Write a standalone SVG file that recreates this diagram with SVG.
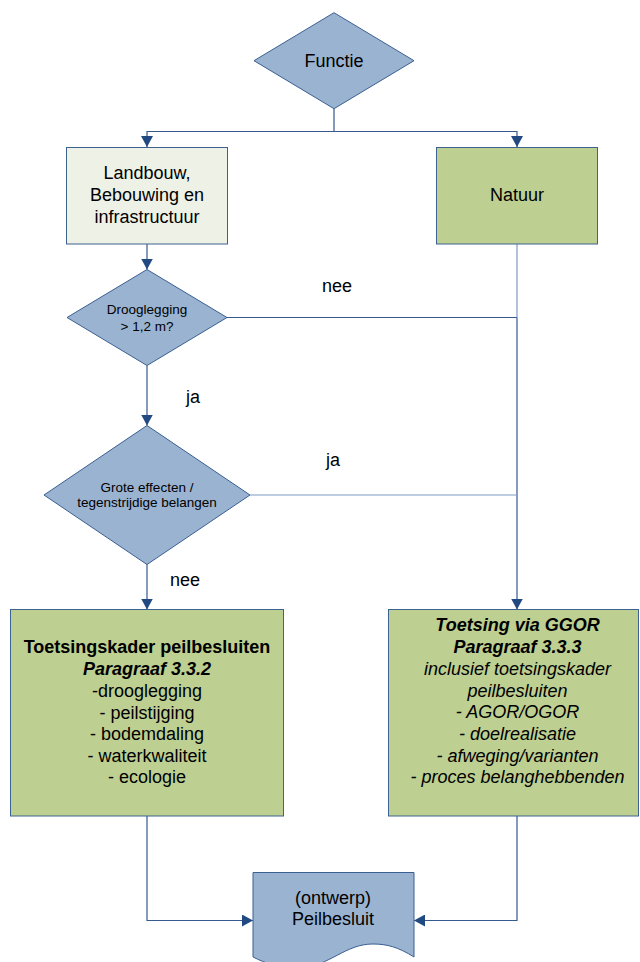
<svg xmlns="http://www.w3.org/2000/svg" width="640" height="962" viewBox="0 0 640 962">
<style>
text{font-family:"Liberation Sans",Arial,sans-serif;fill:#000;text-anchor:middle;dominant-baseline:central}
.big{font-size:18px}
.sm{font-size:13.5px}
.b{font-weight:bold}
.i{font-style:italic}
.dia{fill:#9ab3d1;stroke:#3a5f92;stroke-width:1}
.green{fill:#bdcf91;stroke:#3d6291;stroke-width:1}
.light{fill:#eef1e6;stroke:#3d6291;stroke-width:1}
.c{fill:none;stroke:#36598f;stroke-width:1.2}
.cl{fill:none;stroke:#7e9ac4;stroke-width:1.2}
</style>
<defs>
<marker id="arr" markerUnits="userSpaceOnUse" markerWidth="12" markerHeight="12" refX="11" refY="6" orient="auto">
<path d="M0,0 L11,6 L0,12 Z" fill="#214a82"/>
</marker>
</defs>
<g id="connectors">
<path class="c" d="M334,109 V131.5 H147 V147" marker-end="url(#arr)"/>
<path class="c" d="M334,131.5 H517 V147" marker-end="url(#arr)"/>
<path class="c" d="M147,244 V269.5" marker-end="url(#arr)"/>
<path class="c" d="M227,317.5 H517"/>
<path class="cl" d="M517,244 V317.5"/>
<path class="c" d="M517,317.5 V609.5" marker-end="url(#arr)"/>
<path class="c" d="M147,365.5 V425.5" marker-end="url(#arr)"/>
<path class="cl" d="M250,495 H517"/>
<path class="c" d="M147,564 V609.5" marker-end="url(#arr)"/>
<path class="c" d="M147,816 V920.5 H253" marker-end="url(#arr)"/>
<path class="c" d="M517,816 V920.5 H414" marker-end="url(#arr)"/>
<text class="big" x="337" y="286">nee</text>
<text class="big" x="193" y="397">ja</text>
<text class="big" x="333" y="460">ja</text>
<text class="big" x="185" y="580">nee</text>
</g>
<g id="functie">
<polygon class="dia" points="334,12.7 414,60.7 334,108.7 254,60.7"/>
<text class="big" x="334" y="61">Functie</text>
</g>
<g id="landbouw">
<rect class="light" x="66.5" y="147.5" width="161" height="96.5"/>
<text class="big" x="147" y="173">Landbouw,</text>
<text class="big" x="147" y="195">Bebouwing en</text>
<text class="big" x="147" y="217">infrastructuur</text>
</g>
<g id="natuur">
<rect class="green" x="436.5" y="147.5" width="161" height="96.5"/>
<text class="big" x="517" y="195">Natuur</text>
</g>
<g id="drooglegging">
<polygon class="dia" points="147,269.5 227,317.5 147,365.5 67,317.5"/>
<text class="sm" x="147" y="309">Drooglegging</text>
<text class="sm" x="147" y="326">&gt; 1,2 m?</text>
</g>
<g id="grote-effecten">
<polygon class="dia" points="147,425.5 250,495 147,564.5 44,495"/>
<text class="sm" x="147" y="487">Grote effecten /</text>
<text class="sm" x="147" y="502.5">tegenstrijdige belangen</text>
</g>
<g id="toetsingskader">
<rect class="green" x="10.5" y="609.5" width="273" height="206.5"/>
<text class="big b" x="147" y="647">Toetsingskader peilbesluiten</text>
<text class="big b i" x="147" y="669">Paragraaf 3.3.2</text>
<text class="big" x="147" y="691">-drooglegging</text>
<text class="big" x="147" y="712.5">- peilstijging</text>
<text class="big" x="147" y="734">- bodemdaling</text>
<text class="big" x="147" y="755.5">- waterkwaliteit</text>
<text class="big" x="147" y="777">- ecologie</text>
</g>
<g id="toetsing-ggor">
<rect class="green" x="388.5" y="609.5" width="250" height="206.5"/>
<text class="big b i" x="517.5" y="625">Toetsing via GGOR</text>
<text class="big b i" x="517.5" y="647">Paragraaf 3.3.3</text>
<text class="big i" x="517.5" y="669">inclusief toetsingskader</text>
<text class="big i" x="517.5" y="691">peilbesluiten</text>
<text class="big i" x="517.5" y="712">- AGOR/OGOR</text>
<text class="big i" x="517.5" y="734">- doelrealisatie</text>
<text class="big i" x="517.5" y="755.5">- afweging/varianten</text>
<text class="big i" x="517.5" y="777">- proces belanghebbenden</text>
</g>
<g id="peilbesluit">
<path class="dia" d="M253,872.5 H414 V957 C398,947 387,944 373,944 C345,944 330,966 300,968 C280,969 265,963 253,957 Z"/>
<text class="big" x="333" y="898">(ontwerp)</text>
<text class="big" x="333" y="919">Peilbesluit</text>
</g>
</svg>
